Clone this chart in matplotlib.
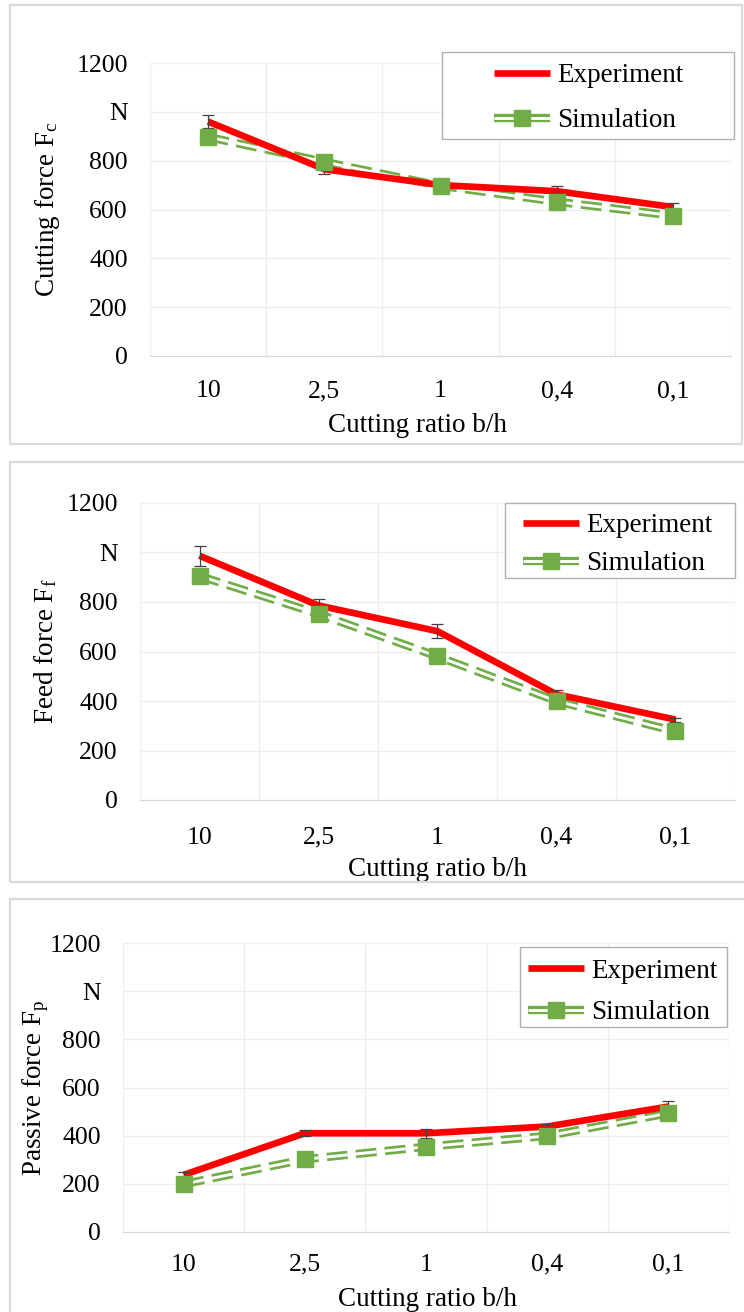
import numpy as np
import matplotlib
matplotlib.use("Agg")
import matplotlib.pyplot as plt
from matplotlib.patches import Rectangle
from matplotlib.lines import Line2D
from matplotlib.legend_handler import HandlerTuple

plt.rcParams['font.family'] = ['Liberation Serif', 'DejaVu Serif']
plt.rcParams['mathtext.fontset'] = 'custom'
plt.rcParams['mathtext.rm'] = 'Liberation Serif'
plt.rcParams['mathtext.it'] = 'Liberation Serif:italic'
plt.rcParams['lines.scale_dashes'] = False

# data
ratios = ['10', '2,5', '1', '0,4', '0,1']
y_ticks = [0, 200, 400, 600, 800, 1000, 1200]
y_ticklabels = ['0', '200', '400', '600', '800', 'N', '1200']

fc_exp = [960, 765, 700, 675, 610]
fc_err = [25, 20, 10, 20, 15]
fc_sim = [897, 795, 697, 632, 575]

ff_exp = [987, 786, 682, 427, 325]
ff_err = [40, 27, 28, 17, 8]
ff_sim = [905, 752, 580, 400, 277]

fp_exp = [237, 410, 410, 438, 521]
fp_err = [13, 12, 18, 11, 25]
fp_sim = [199, 302, 354, 399, 493]

RED = '#ff0000'
GREEN = '#70ad47'
W, H = 744, 1312

fig = plt.figure(figsize=(W / 100, H / 100), dpi=100)


def fx(px):
    return px / W


def fy(py):
    return 1 - py / H


# pixel layout of the three panels
panels = [
    dict(exp=fc_exp, err=fc_err, sim=fc_sim, ylab='Cutting force F$_\\mathrm{c}$',
         ax=(150, 731, 63, 356), frame=(10, 742, 5, 444),
         leg=(494, 63.5, 0.72), legbox=(442, 734, 52, 139),
         ylab_x=47, xlab_x=418, xlab_y=425, xtick_pad=25.5),
    dict(exp=ff_exp, err=ff_err, sim=ff_sim, ylab='Feed force F$_\\mathrm{f}$',
         ax=(140, 735, 503, 800), frame=(10, 760, 462, 882),
         leg=(523, 513.5, 0.47), legbox=(505, 735, 503, 578),
         ylab_x=46, xlab_x=438, xlab_y=869, xtick_pad=27),
    dict(exp=fp_exp, err=fp_err, sim=fp_sim, ylab='Passive force F$_\\mathrm{p}$',
         ax=(123, 729, 943, 1232), frame=(10, 760, 899, 1330),
         leg=(528, 958.5, 0.62), legbox=(520, 727, 947, 1027),
         ylab_x=36, xlab_x=427, xlab_y=1299, xtick_pad=23.5),
]

x = np.arange(1, 6)
dash = (0, (15, 6))
LW_SIM, LW_GAP, LW_EXP = 6.0, 2.1, 4.8

for p in panels:
    l, r, t, b = p['ax']
    ax = fig.add_axes([fx(l), fy(b), (r - l) / W, (b - t) / H])

    # frame round the panel
    fl, fr, ft, fb = p['frame']
    fig.add_artist(Rectangle((fx(fl), fy(fb)), (fr - fl) / W, (fb - ft) / H,
                             transform=fig.transFigure, fill=False,
                             edgecolor='#d9d9d9', lw=1.6))

    # simulation: double dashed line
    ax.plot(x, p['sim'], color=GREEN, lw=LW_SIM, ls=dash, dash_capstyle='butt', zorder=2)
    ax.plot(x, p['sim'], color='white', lw=LW_GAP, ls=dash, dash_capstyle='butt', zorder=2.1)
    # experiment
    ax.plot(x, p['exp'], color=RED, lw=LW_EXP, solid_capstyle='butt', zorder=3)
    ax.errorbar(x, p['exp'], yerr=p['err'], fmt='none', ecolor='#404040',
                elinewidth=0.9, capsize=4, capthick=0.9, zorder=3.5)
    ax.plot(x, p['sim'], ls='none', marker='s', ms=11, color=GREEN, zorder=4)

    ax.set_xlim(0.5, 5.5)
    ax.set_ylim(0, 1200)
    ax.set_xticks(x, ratios)
    ax.set_xticks(np.arange(0.5, 6, 1), minor=True)
    ax.set_yticks(y_ticks, y_ticklabels)
    ax.tick_params(axis='both', length=0, labelsize=18.5)
    ax.tick_params(axis='y', pad=16)
    ax.tick_params(axis='x', pad=p['xtick_pad'])
    plt.setp(ax.get_xticklabels(), va='center')
    ax.tick_params(axis='x', which='minor', length=0)
    ax.grid(True, axis='y', color='#eeeeee', lw=1)
    ax.grid(True, axis='x', which='minor', color='#eeeeee', lw=1)
    ax.grid(False, axis='x', which='major')
    for s in ['top', 'left', 'right']:
        ax.spines[s].set_visible(False)
    ax.spines['bottom'].set_color('#d9d9d9')
    ax.set_axisbelow(True)

    ax.set_ylabel(p['ylab'], fontsize=19.5, va='center')
    ax.yaxis.set_label_coords((p['ylab_x'] - l) / (r - l), 0.5)
    ax.set_xlabel('Cutting ratio b/h', fontsize=19.5, va='center')
    ax.xaxis.set_label_coords((p['xlab_x'] - l) / (r - l), -(p['xlab_y'] - b) / (b - t))

    # legend box
    bl, br, bt, bb = p['legbox']
    ax.add_patch(Rectangle((fx(bl), fy(bb)), (br - bl) / W, (bb - bt) / H,
                           transform=fig.transFigure, facecolor='white',
                           edgecolor='#b0b0b0', lw=1, zorder=5, clip_on=False))
    h_exp = Line2D([], [], color=RED, lw=LW_EXP, solid_capstyle='butt')
    h_s1 = Line2D([], [], color=GREEN, lw=LW_SIM, solid_capstyle='butt')
    h_s2 = Line2D([], [], color='white', lw=LW_GAP, solid_capstyle='butt')
    h_s3 = Line2D([], [], ls='none', marker='s', ms=11, color=GREEN)
    hx, hy, sp = p['leg']
    leg = ax.legend([h_exp, (h_s1, h_s2, h_s3)], ['Experiment', 'Simulation'],
                    handler_map={tuple: HandlerTuple(ndivide=1, pad=0)},
                    frameon=False, loc='upper left', bbox_to_anchor=(fx(hx), fy(hy)),
                    bbox_transform=fig.transFigure, borderpad=0, borderaxespad=0,
                    handlelength=2.05, handletextpad=0.28, labelspacing=sp, fontsize=19.5)
    leg.set_zorder(6)

fig.savefig('out.png', dpi=100)
